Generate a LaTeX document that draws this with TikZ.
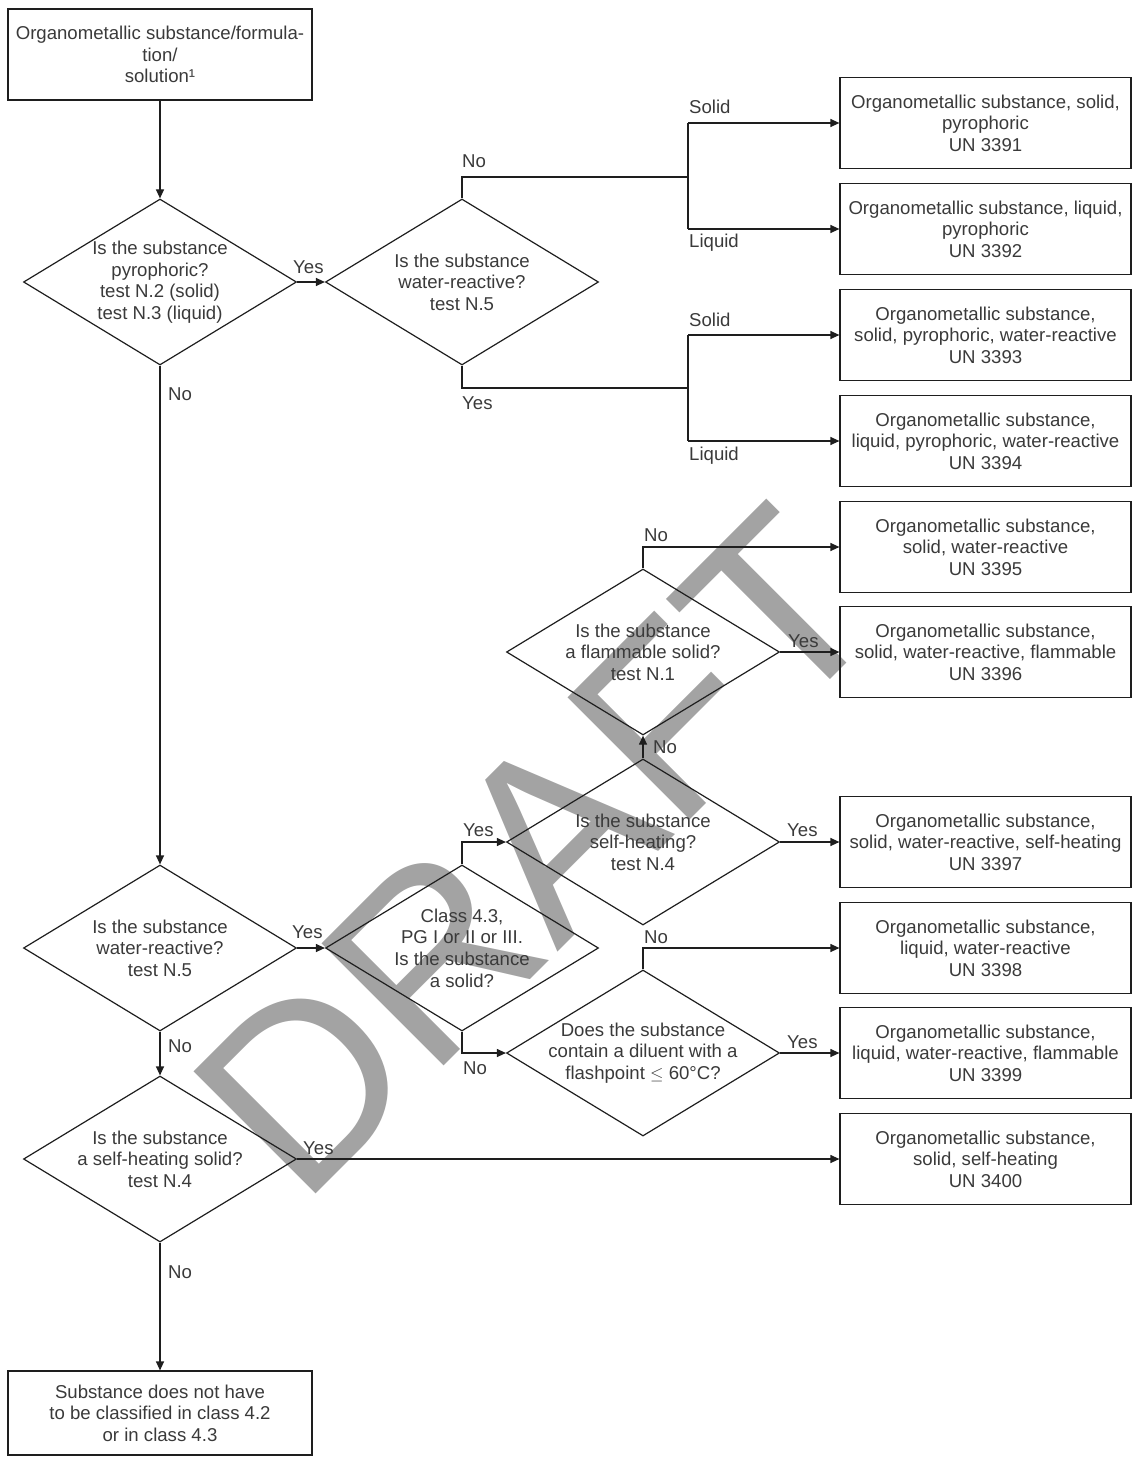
\documentclass[tikz,border=0pt]{standalone}
\usepackage{fontspec}
\setmainfont{Liberation Sans}
\usetikzlibrary{shapes.geometric,arrows.meta}
\definecolor{txt}{HTML}{3A3A3A}
\definecolor{ln}{HTML}{1E1E1E}
\definecolor{wm}{HTML}{A3A3A3}
\begin{document}
\begin{tikzpicture}[x=1pt,y=-1pt,
  every node/.style={font=\fontsize{18.6}{21.6}\selectfont, text=txt},
  box/.style={draw=ln, line width=1.2pt, rectangle, minimum width=291pt, minimum height=91pt, inner sep=0pt, align=center},
  dia/.style={draw=ln, line width=1.2pt, diamond, minimum width=273pt, minimum height=166pt, inner sep=0pt},
  dtext/.style={align=center, inner sep=0pt},
  lbl/.style={anchor=west, inner sep=0pt},
  conn/.style={draw=ln, line width=1.2pt},
  arr/.style={conn, -{Triangle[length=9pt,width=8pt]}}
]
\useasboundingbox (0,0) rectangle (1132,1458);
% watermark
\node[rotate=45, anchor=base west, inner sep=0pt, text=wm, font=\fontsize{251}{251}\selectfont] (wmk) at (301,1209) {DRAFT};

% left column
\node[box, minimum width=304pt] (top) at (160,54.5) {Organometallic substance/formula-\\tion/\\solution¹};
\node[dia] (d1) at (160,282) {};
\node[dtext] (d1t) at (d1) {Is the substance\\pyrophoric?\\test N.2 (solid)\\test N.3 (liquid)};
\node[dia] (d2) at (462,282) {};
\node[dtext] (d2t) at (d2) {Is the substance\\water-reactive?\\test N.5};
\node[dia] (d3) at (160,948) {};
\node[dtext] (d3t) at (d3) {Is the substance\\water-reactive?\\test N.5};
\node[dia] (d4) at (160,1159) {};
\node[dtext] (d4t) at (d4) {Is the substance\\a self-heating solid?\\test N.4};
\node[dia] (d5) at (462,948) {};
\node[dtext] (d5t) at (d5) {Class 4.3,\\PG I or II or III.\\Is the substance\\a solid?};
\node[dia] (d6) at (643,842) {};
\node[dtext] (d6t) at (d6) {Is the substance\\self-heating?\\test N.4};
\node[dia] (d7) at (643,652) {};
\node[dtext] (d7t) at (d7) {Is the substance\\a flammable solid?\\test N.1};
\node[dia] (d8) at (643,1053) {};
\node[dtext] (d8t) at (d8) {Does the substance\\contain a diluent with a\\flashpoint $\leq$ 60°C?};
\node[box, minimum width=304pt, minimum height=84pt] (fin) at (160,1413) {Substance does not have\\to be classified in class 4.2\\or in class 4.3};

% right column
\node[box] (b1) at (985.5,123) {Organometallic substance, solid,\\pyrophoric\\UN 3391};
\node[box] (b2) at (985.5,229) {Organometallic substance, liquid,\\pyrophoric\\UN 3392};
\node[box] (b3) at (985.5,335) {Organometallic substance,\\solid, pyrophoric, water-reactive\\UN 3393};
\node[box] (b4) at (985.5,441) {Organometallic substance,\\liquid, pyrophoric, water-reactive\\UN 3394};
\node[box] (b5) at (985.5,547) {Organometallic substance,\\solid, water-reactive\\UN 3395};
\node[box] (b6) at (985.5,652) {Organometallic substance,\\solid, water-reactive, flammable\\UN 3396};
\node[box] (b7) at (985.5,842) {Organometallic substance,\\solid, water-reactive, self-heating\\UN 3397};
\node[box] (b8) at (985.5,948) {Organometallic substance,\\liquid, water-reactive\\UN 3398};
\node[box] (b9) at (985.5,1053) {Organometallic substance,\\liquid, water-reactive, flammable\\UN 3399};
\node[box] (b10) at (985.5,1159) {Organometallic substance,\\solid, self-heating\\UN 3400};

% junctions
\coordinate (j1) at (688,177);
\coordinate (j1a) at (688,123);
\coordinate (j1b) at (688,229);
\coordinate (j2) at (688,388);
\coordinate (j2a) at (688,335);
\coordinate (j2b) at (688,441);

% connectors
\draw[arr] (top.south) -- (d1.north);
\draw[arr] (d1.east) -- (d2.west);
\draw[conn] (d2.north) |- (j1);
\draw[conn] (j1a) -- (j1b);
\draw[arr] (j1a) -- (b1.west);
\draw[arr] (j1b) -- (b2.west);
\draw[conn] (d2.south) |- (j2);
\draw[conn] (j2a) -- (j2b);
\draw[arr] (j2a) -- (b3.west);
\draw[arr] (j2b) -- (b4.west);
\draw[arr] (d1.south) -- (d3.north);
\draw[arr] (d3.east) -- (d5.west);
\draw[arr] (d3.south) -- (d4.north);
\draw[arr] (d4.east) -- (b10.west);
\draw[arr] (d4.south) -- (fin.north);
\draw[arr] (d5.north) |- (d6.west);
\draw[arr] (d5.south) |- (d8.west);
\draw[arr] (d6.east) -- (b7.west);
\draw[arr] (d6.north) -- (d7.south);
\draw[arr] (d7.north) |- (b5.west);
\draw[arr] (d7.east) -- (b6.west);
\draw[arr] (d8.north) |- (b8.west);
\draw[arr] (d8.east) -- (b9.west);

% labels
\node[lbl] (l1) at (293,267) {Yes};
\node[lbl] (l2) at (462,161) {No};
\node[lbl] (l3) at (689,107) {Solid};
\node[lbl] (l4) at (689,243) {Liquid};
\node[lbl] (l5) at (462,403) {Yes};
\node[lbl] (l6) at (689,320) {Solid};
\node[lbl] (l7) at (689,456) {Liquid};
\node[lbl] (l8) at (168,394) {No};
\node[lbl] (l9) at (292,932) {Yes};
\node[lbl] (l10) at (168,1046) {No};
\node[lbl] (l11) at (303,1148) {Yes};
\node[lbl] (l12) at (168,1272) {No};
\node[lbl] (l13) at (463,830) {Yes};
\node[lbl] (l14) at (463,1068) {No};
\node[lbl] (l15) at (787,830) {Yes};
\node[lbl] (l16) at (653,747) {No};
\node[lbl] (l17) at (644,535) {No};
\node[lbl] (l18) at (788,641) {Yes};
\node[lbl] (l19) at (644,937) {No};
\node[lbl] (l20) at (787,1042) {Yes};
\end{tikzpicture}
\end{document}
